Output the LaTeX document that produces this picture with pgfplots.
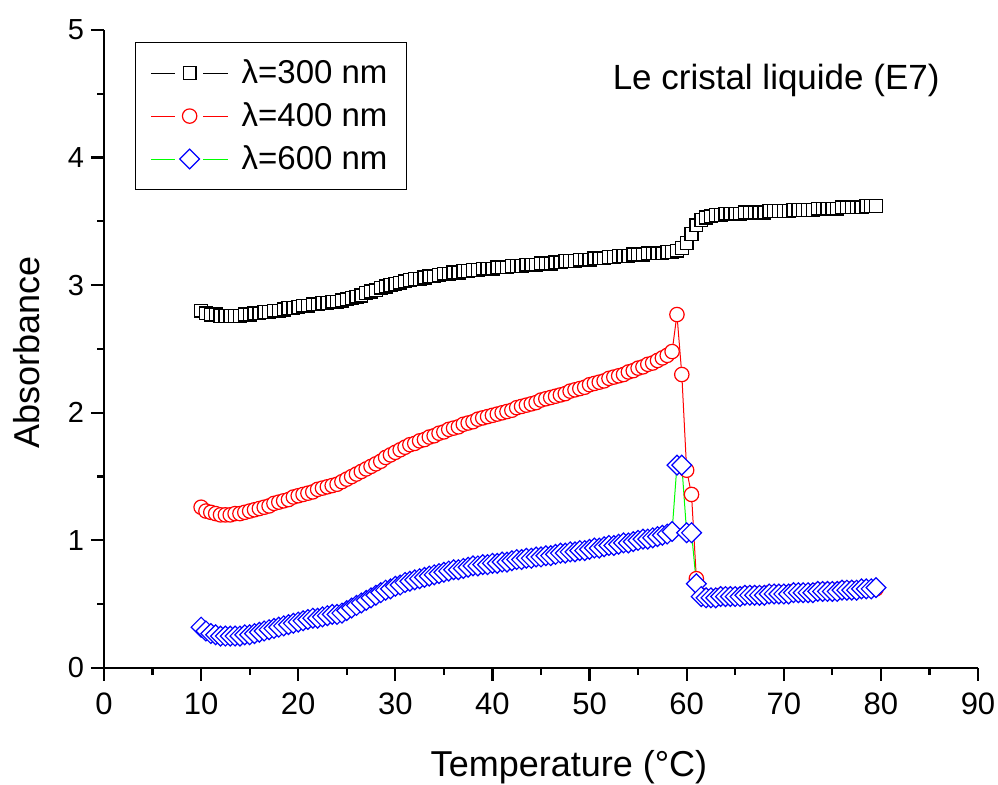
\documentclass[border=0pt]{standalone}
\usepackage{fontspec}
\setmainfont{Liberation Sans}
\usepackage{pgfplots}
\pgfplotsset{compat=1.18}
\begin{document}
\begin{tikzpicture}
\begin{axis}[
  name=ax,
  scale only axis, width=437pt, height=319pt,
  xmin=0, xmax=90, ymin=0, ymax=5,
  xtick={0,10,...,90}, ytick={0,1,...,5},
  minor x tick num=1, minor y tick num=1,
  axis x line*=bottom, axis y line*=left,
  axis line style={line width=1.1pt},
  every outer x axis line/.append style={-}, every outer y axis line/.append style={-},
  tick align=outside, tick style={line width=1.1pt, black},
  major tick length=6.5pt, minor tick length=3.4pt,
  /pgf/number format/assume math mode=true,
  y tick label style={font=\fontsize{14.5}{17}\selectfont},
  x tick label style={font=\fontsize{15.5}{18}\selectfont, inner xsep=0pt, yshift=-2.5pt},
  xlabel={Temperature (°C)}, ylabel={Absorbance},
  label style={font=\fontsize{18}{21}\selectfont, inner sep=0pt},
  xlabel style={at={(axis description cs:0.532,-0.155)}, anchor=center},
  ylabel style={at={(axis description cs:-0.089,0.495)}, anchor=center},
  legend style={at={(axis description cs:0.0355,0.981)}, anchor=north west, draw=black, line width=0.6pt,
    font=\fontsize{16.5}{19}\selectfont, row sep=4pt, inner xsep=7.5pt, inner ysep=6.5pt},
  legend cell align=left,
  legend image code/.code={
    \draw[#1,mark=none] (0pt,0pt) -- (12pt,0pt);
    \draw[#1,mark=none] (26pt,0pt) -- (38.5pt,0pt);
    \draw[#1,only marks] plot coordinates {(19.25pt,0pt)};
    \path (43pt,0pt);
  },
  clip=false,
]
\addplot[black, line width=0.5pt, mark=square*, mark size=3.2pt, mark options={draw=black, fill=white, line width=0.7pt, solid}] coordinates {
(10.0,2.80)(10.5,2.78)(11.0,2.77)(11.5,2.77)(12.0,2.76)(12.5,2.76)(13.0,2.76)(13.5,2.76)(14.0,2.76)(14.5,2.77)
(15.0,2.77)(15.5,2.78)(16.0,2.78)(16.5,2.79)(17.0,2.79)(17.5,2.80)(18.0,2.80)(18.5,2.81)(19.0,2.82)(19.5,2.82)
(20.0,2.83)(20.5,2.84)(21.0,2.84)(21.5,2.85)(22.0,2.85)(22.5,2.86)(23.0,2.86)(23.5,2.87)(24.0,2.87)(24.5,2.88)
(25.0,2.89)(25.5,2.90)(26.0,2.91)(26.5,2.92)(27.0,2.94)(27.5,2.95)(28.0,2.96)(28.5,2.98)(29.0,2.99)(29.5,3.00)
(30.0,3.01)(30.5,3.02)(31.0,3.03)(31.5,3.04)(32.0,3.05)(32.5,3.05)(33.0,3.06)(33.5,3.07)(34.0,3.07)(34.5,3.08)
(35.0,3.09)(35.5,3.09)(36.0,3.10)(36.5,3.10)(37.0,3.11)(37.5,3.11)(38.0,3.12)(38.5,3.12)(39.0,3.13)(39.5,3.13)
(40.0,3.13)(40.5,3.14)(41.0,3.14)(41.5,3.14)(42.0,3.15)(42.5,3.15)(43.0,3.15)(43.5,3.16)(44.0,3.16)(44.5,3.16)
(45.0,3.17)(45.5,3.17)(46.0,3.17)(46.5,3.18)(47.0,3.18)(47.5,3.19)(48.0,3.19)(48.5,3.19)(49.0,3.20)(49.5,3.20)
(50.0,3.20)(50.5,3.21)(51.0,3.21)(51.5,3.21)(52.0,3.22)(52.5,3.22)(53.0,3.23)(53.5,3.23)(54.0,3.23)(54.5,3.24)
(55.0,3.24)(55.5,3.24)(56.0,3.25)(56.5,3.25)(57.0,3.25)(57.5,3.25)(58.0,3.26)(58.5,3.26)(59.0,3.27)(59.5,3.29)
(60.0,3.33)(60.5,3.40)(61.0,3.47)(61.5,3.51)(62.0,3.53)(62.5,3.54)(63.0,3.55)(63.5,3.55)(64.0,3.56)(64.5,3.56)
(65.0,3.56)(65.5,3.56)(66.0,3.57)(66.5,3.57)(67.0,3.57)(67.5,3.57)(68.0,3.57)(68.5,3.58)(69.0,3.58)(69.5,3.58)
(70.0,3.58)(70.5,3.58)(71.0,3.59)(71.5,3.59)(72.0,3.59)(72.5,3.59)(73.0,3.59)(73.5,3.60)(74.0,3.60)(74.5,3.60)
(75.0,3.60)(75.5,3.60)(76.0,3.61)(76.5,3.61)(77.0,3.61)(77.5,3.61)(78.0,3.61)(78.5,3.62)(79.0,3.62)(79.5,3.62)
};
\addlegendentry{λ=300 nm}
\addplot[red, line width=0.5pt, mark=*, mark size=3.6pt, mark options={draw=red, fill=white, line width=0.6pt, solid}] coordinates {
(10.0,1.26)(10.5,1.23)(11.0,1.22)(11.5,1.21)(12.0,1.20)(12.5,1.20)(13.0,1.20)(13.5,1.21)(14.0,1.21)(14.5,1.22)
(15.0,1.23)(15.5,1.24)(16.0,1.25)(16.5,1.26)(17.0,1.27)(17.5,1.29)(18.0,1.30)(18.5,1.31)(19.0,1.32)(19.5,1.34)
(20.0,1.35)(20.5,1.36)(21.0,1.37)(21.5,1.38)(22.0,1.40)(22.5,1.41)(23.0,1.42)(23.5,1.43)(24.0,1.44)(24.5,1.46)
(25.0,1.48)(25.5,1.50)(26.0,1.52)(26.5,1.54)(27.0,1.56)(27.5,1.58)(28.0,1.60)(28.5,1.62)(29.0,1.65)(29.5,1.67)
(30.0,1.69)(30.5,1.71)(31.0,1.73)(31.5,1.75)(32.0,1.76)(32.5,1.78)(33.0,1.79)(33.5,1.81)(34.0,1.82)(34.5,1.84)
(35.0,1.85)(35.5,1.87)(36.0,1.88)(36.5,1.89)(37.0,1.91)(37.5,1.92)(38.0,1.93)(38.5,1.95)(39.0,1.96)(39.5,1.97)
(40.0,1.98)(40.5,1.99)(41.0,2.00)(41.5,2.01)(42.0,2.02)(42.5,2.04)(43.0,2.05)(43.5,2.06)(44.0,2.07)(44.5,2.08)
(45.0,2.10)(45.5,2.11)(46.0,2.12)(46.5,2.13)(47.0,2.14)(47.5,2.15)(48.0,2.17)(48.5,2.18)(49.0,2.19)(49.5,2.20)
(50.0,2.22)(50.5,2.23)(51.0,2.24)(51.5,2.25)(52.0,2.27)(52.5,2.28)(53.0,2.29)(53.5,2.30)(54.0,2.32)(54.5,2.33)
(55.0,2.35)(55.5,2.36)(56.0,2.38)(56.5,2.39)(57.0,2.41)(57.5,2.43)(58.0,2.45)(58.5,2.48)(59.0,2.77)(59.5,2.30)
(60.0,1.55)(60.5,1.36)(61.0,0.70)(61.5,0.57)(62.0,0.56)(62.5,0.56)(63.0,0.56)(63.5,0.57)(64.0,0.57)(64.5,0.57)
(65.0,0.57)(65.5,0.57)(66.0,0.58)(66.5,0.58)(67.0,0.58)(67.5,0.58)(68.0,0.58)(68.5,0.59)(69.0,0.59)(69.5,0.59)
(70.0,0.59)(70.5,0.59)(71.0,0.60)(71.5,0.60)(72.0,0.60)(72.5,0.60)(73.0,0.60)(73.5,0.61)(74.0,0.61)(74.5,0.61)
(75.0,0.61)(75.5,0.61)(76.0,0.62)(76.5,0.62)(77.0,0.62)(77.5,0.62)(78.0,0.62)(78.5,0.62)(79.0,0.62)(79.5,0.62)
};
\addlegendentry{λ=400 nm}
\addplot[green, line width=0.5pt, mark=square*, mark size=3.5pt, mark options={draw=blue, fill=white, line width=0.6pt, solid, rotate=45}] coordinates {
(10.0,0.32)(10.5,0.29)(11.0,0.27)(11.5,0.26)(12.0,0.25)(12.5,0.25)(13.0,0.25)(13.5,0.25)(14.0,0.25)(14.5,0.26)
(15.0,0.26)(15.5,0.27)(16.0,0.28)(16.5,0.29)(17.0,0.30)(17.5,0.31)(18.0,0.32)(18.5,0.33)(19.0,0.34)(19.5,0.35)
(20.0,0.36)(20.5,0.37)(21.0,0.38)(21.5,0.39)(22.0,0.39)(22.5,0.40)(23.0,0.41)(23.5,0.42)(24.0,0.42)(24.5,0.43)
(25.0,0.45)(25.5,0.47)(26.0,0.49)(26.5,0.51)(27.0,0.53)(27.5,0.55)(28.0,0.57)(28.5,0.59)(29.0,0.61)(29.5,0.62)
(30.0,0.64)(30.5,0.65)(31.0,0.67)(31.5,0.68)(32.0,0.69)(32.5,0.70)(33.0,0.71)(33.5,0.72)(34.0,0.73)(34.5,0.74)
(35.0,0.75)(35.5,0.76)(36.0,0.77)(36.5,0.77)(37.0,0.78)(37.5,0.79)(38.0,0.80)(38.5,0.80)(39.0,0.81)(39.5,0.81)
(40.0,0.82)(40.5,0.82)(41.0,0.83)(41.5,0.83)(42.0,0.84)(42.5,0.85)(43.0,0.85)(43.5,0.86)(44.0,0.86)(44.5,0.87)
(45.0,0.87)(45.5,0.88)(46.0,0.88)(46.5,0.89)(47.0,0.90)(47.5,0.90)(48.0,0.91)(48.5,0.91)(49.0,0.92)(49.5,0.92)
(50.0,0.93)(50.5,0.94)(51.0,0.94)(51.5,0.95)(52.0,0.96)(52.5,0.96)(53.0,0.97)(53.5,0.98)(54.0,0.98)(54.5,0.99)
(55.0,1.00)(55.5,1.01)(56.0,1.01)(56.5,1.02)(57.0,1.03)(57.5,1.04)(58.0,1.05)(58.5,1.07)(59.0,1.59)(59.5,1.59)
(60.0,1.06)(60.5,1.06)(61.0,0.66)(61.5,0.56)(62.0,0.55)(62.5,0.55)(63.0,0.55)(63.5,0.56)(64.0,0.56)(64.5,0.56)
(65.0,0.56)(65.5,0.56)(66.0,0.57)(66.5,0.57)(67.0,0.57)(67.5,0.57)(68.0,0.57)(68.5,0.58)(69.0,0.58)(69.5,0.58)
(70.0,0.58)(70.5,0.58)(71.0,0.59)(71.5,0.59)(72.0,0.59)(72.5,0.59)(73.0,0.59)(73.5,0.60)(74.0,0.60)(74.5,0.60)
(75.0,0.60)(75.5,0.60)(76.0,0.61)(76.5,0.61)(77.0,0.61)(77.5,0.61)(78.0,0.62)(78.5,0.62)(79.0,0.62)(79.5,0.63)
};
\addlegendentry{λ=600 nm}
\node[anchor=east, inner sep=0pt, font=\fontsize{17.5}{20}\selectfont] at (axis description cs:0.9565,0.9216) {Le cristal liquide (E7)};
\end{axis}
\path (ax.south west) +(-52pt,-58.5pt) rectangle +(447pt,334pt);
\end{tikzpicture}
\end{document}
